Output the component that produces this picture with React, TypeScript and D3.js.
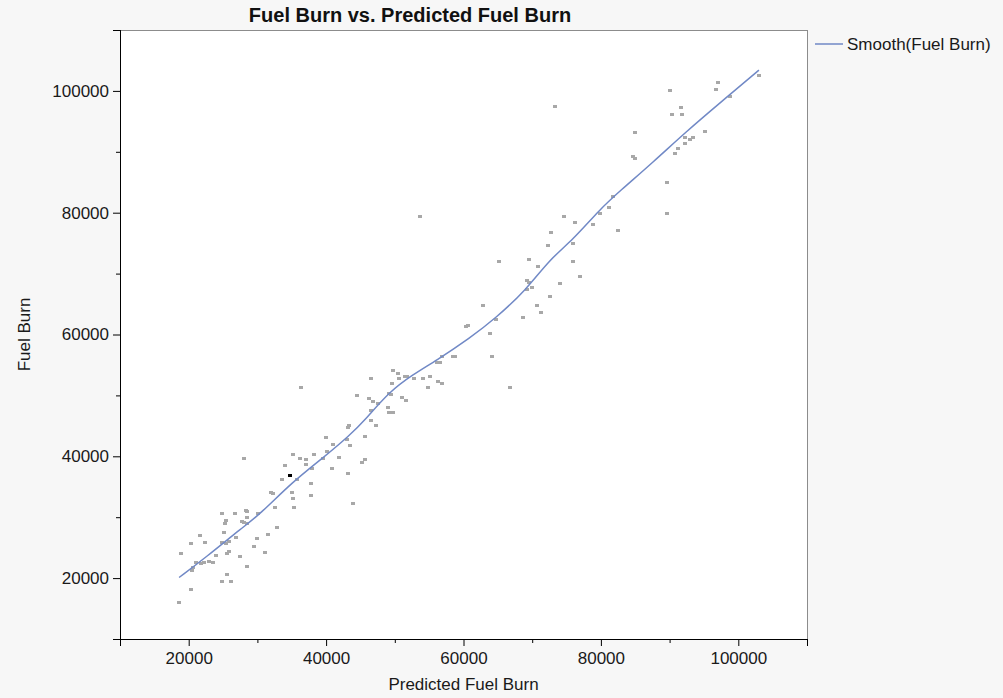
import React, { useRef, useEffect } from 'react';
import * as d3 from 'd3';

const W = 1003;
const H = 698;

// Predicted Fuel Burn (x) and Fuel Burn (y)
const predicted = [
  40000, 41000, 28100, 35200, 36200, 37100, 38200, 37100, 34000, 38000, 40800, 40100, 39600,
  33600, 35700, 37800, 32000, 32300, 35000, 35200, 37800, 32500, 35400, 24900, 26700, 28300,
  28500, 28500, 30100, 25500, 25300, 27700, 28100, 28500, 32800, 25100, 21600, 26900, 31500,
  29900, 20400, 22400, 24900, 25400, 25900, 29500, 18900, 24000, 25600, 25900, 27500, 31100,
  21100, 21800, 22200, 22900, 23500, 20600, 20500, 28500, 25600, 24900, 26100, 20400, 18600,
  36400, 46500, 49800, 50400, 51500, 51800, 50600, 52800, 54100, 55100, 49600, 56300, 56900,
  54900, 56800, 58400, 58700, 56100, 56600, 49200, 49400, 44500, 46300, 46800, 47600, 51000,
  51600, 49000, 46600, 49200, 49800, 46500, 47200, 43400, 43200, 45600, 43000, 43500, 41900,
  45600, 45200, 43200, 43900,
  53700, 74700, 76300, 78800, 72800, 72300, 75900, 65200, 69500, 70900, 75900, 77000, 69300,
  69600, 74000, 69300, 69900, 72600, 62800, 70700, 71300, 64700, 68600, 60400, 60600, 63800,
  64200, 66800,
  84700, 84900, 81700, 81200, 79900, 82500, 73300,
  103000, 97000, 96800, 90100, 98800, 91600, 90300, 91800, 84900, 95100, 92200, 93400, 93000,
  92200, 91200, 90800, 89600, 89600,
];
const fuelBurn = [
  43100, 42000, 39700, 40400, 39800, 39600, 40400, 38700, 38500, 38000, 38000, 40800, 39700,
  36200, 36200, 35600, 34200, 34000, 34200, 33200, 33700, 31600, 31600, 30700, 30700, 31200,
  31000, 30000, 30700, 29500, 29100, 29400, 29200, 29100, 28400, 27500, 27100, 26800, 27300,
  26600, 25700, 25900, 25900, 25700, 26100, 25200, 24100, 23800, 24100, 24500, 23600, 24300,
  22700, 22400, 22700, 22800, 22700, 21900, 21300, 22000, 20600, 19500, 19500, 18200, 16100,
  51300, 52900, 54100, 53600, 53200, 53200, 52900, 52900, 52900, 53200, 52000, 52300, 52000,
  51300, 56400, 56400, 56400, 55500, 55500, 50400, 50300, 50000, 49500, 49100, 48800, 49700,
  49300, 48100, 47600, 47200, 47200, 45900, 45100, 45100, 44800, 43300, 42800, 41900, 39900,
  39500, 39000, 37200, 32300,
  79500, 79500, 78500, 78100, 76900, 74700, 75100, 72100, 72400, 71200, 72100, 69600, 69000,
  68600, 68500, 67400, 67800, 66400, 64800, 64800, 63700, 62600, 62800, 61400, 61600, 60300,
  56400, 51300,
  89300, 88900, 82700, 80900, 80000, 77200, 97600,
  102600, 101400, 100300, 100100, 99100, 97300, 96200, 96200, 93200, 93400, 92500, 92500, 92100,
  91400, 90700, 89800, 85000, 79900,
];

// the one selected row, drawn in black
const selectedPredicted = [34800];
const selectedFuelBurn = [36900];

// Smooth(Fuel Burn) curve
const smoothX = [18600, 22500, 27800, 30300, 35100, 39500, 43400, 45700, 49200, 52600, 56000, 60900,
  64700, 69100, 72500, 75900, 79800, 82700, 87600, 92400, 97300, 103000];
const smoothY = [20100, 23400, 28300, 30400, 35800, 39700, 43400, 46000, 50600, 53400, 55700, 59400,
  62700, 67300, 72300, 75500, 80500, 83500, 88300, 93300, 98000, 103400];

const majorTicks = [20000, 40000, 60000, 80000, 100000];
const minorTicks = [10000, 30000, 50000, 70000, 90000, 110000];

const FONT = '"Liberation Sans", Arial, sans-serif';
const LINE_COLOR = '#7189c6';

export default function App() {
  const ref = useRef<SVGSVGElement | null>(null);

  useEffect(() => {
    if (!ref.current) return;
    const svg = d3.select(ref.current);
    svg.selectAll('*').remove();

    const margin = { top: 30, right: 196, bottom: 59, left: 120 };
    const x = d3.scaleLinear().domain([10000, 110000]).range([margin.left, W - margin.right]);
    const y = d3.scaleLinear().domain([10000, 110000]).range([H - margin.bottom, margin.top]);

    svg.append('rect').attr('width', W).attr('height', H).attr('fill', '#f7f7f7');

    // plot frame
    svg.append('rect')
      .attr('x', margin.left + 0.5)
      .attr('y', margin.top + 0.5)
      .attr('width', W - margin.left - margin.right)
      .attr('height', H - margin.top - margin.bottom)
      .attr('fill', '#fff')
      .attr('stroke', '#8c8c8c');

    // axes: major with labels, minor without
    const fmt = d3.format('d');
    const xAxis = svg.append('g').attr('transform', `translate(0,${H - margin.bottom})`);
    xAxis.call(d3.axisBottom(x).tickValues(majorTicks).tickSize(7).tickPadding(6).tickFormat(v => fmt(v as number)));
    const xMinor = svg.append('g').attr('transform', `translate(0,${H - margin.bottom})`);
    xMinor.call(d3.axisBottom(x).tickValues(minorTicks).tickSize(4).tickFormat(() => ''));

    const yAxis = svg.append('g').attr('transform', `translate(${margin.left},0)`);
    yAxis.call(d3.axisLeft(y).tickValues(majorTicks).tickSize(7).tickPadding(4).tickFormat(v => fmt(v as number)));
    const yMinor = svg.append('g').attr('transform', `translate(${margin.left},0)`);
    yMinor.call(d3.axisLeft(y).tickValues(minorTicks).tickSize(4).tickFormat(() => ''));

    svg.selectAll('.domain, .tick line').attr('stroke', '#000');
    svg.selectAll('.tick text')
      .attr('fill', '#1a1a1a')
      .style('font-family', FONT)
      .style('font-size', '17px');

    // points
    const pts = svg.append('g');
    predicted.forEach((px, i) => {
      pts.append('rect')
        .attr('x', Math.round(x(px)) - 2)
        .attr('y', Math.round(y(fuelBurn[i])) - 1)
        .attr('width', 4)
        .attr('height', 3)
        .attr('fill', '#a8a8a8');
    });
    selectedPredicted.forEach((px, i) => {
      pts.append('rect')
        .attr('x', Math.round(x(px)) - 2)
        .attr('y', Math.round(y(selectedFuelBurn[i])) - 1)
        .attr('width', 4)
        .attr('height', 3)
        .attr('fill', '#000');
    });

    // smooth curve
    const line = d3.line<number>()
      .x(d => x(smoothX[d]))
      .y(d => y(smoothY[d]))
      .curve(d3.curveBasis);
    svg.append('path')
      .datum(d3.range(smoothX.length))
      .attr('fill', 'none')
      .attr('stroke', LINE_COLOR)
      .attr('stroke-width', 1.5)
      .attr('d', line);

    // title
    svg.append('text')
      .attr('x', 410)
      .attr('y', 22)
      .attr('text-anchor', 'middle')
      .style('font-family', FONT)
      .style('font-size', '20px')
      .style('font-weight', 'bold')
      .attr('fill', '#111')
      .text('Fuel Burn vs. Predicted Fuel Burn');

    // axis titles
    svg.append('text')
      .attr('x', (margin.left + W - margin.right) / 2)
      .attr('y', 690)
      .attr('text-anchor', 'middle')
      .style('font-family', FONT)
      .style('font-size', '17px')
      .attr('fill', '#1a1a1a')
      .text('Predicted Fuel Burn');

    svg.append('text')
      .attr('transform', `translate(30,${(margin.top + H - margin.bottom) / 2}) rotate(-90)`)
      .attr('text-anchor', 'middle')
      .style('font-family', FONT)
      .style('font-size', '17px')
      .attr('fill', '#1a1a1a')
      .text('Fuel Burn');

    // legend
    const lg = svg.append('g').attr('transform', `translate(${W - margin.right + 8},44)`);
    lg.append('line').attr('x1', 0).attr('x2', 28).attr('y1', 0).attr('y2', 0)
      .attr('stroke', LINE_COLOR).attr('stroke-width', 1.5);
    lg.append('text')
      .attr('x', 32)
      .attr('y', 6)
      .style('font-family', FONT)
      .style('font-size', '17px')
      .attr('fill', '#1a1a1a')
      .text('Smooth(Fuel Burn)');
  }, []);

  return (
    <div style={{ position: 'fixed', left: 0, top: 0 }}>
      <svg ref={ref} width={W} height={H} style={{ display: 'block' }} />
    </div>
  );
}
